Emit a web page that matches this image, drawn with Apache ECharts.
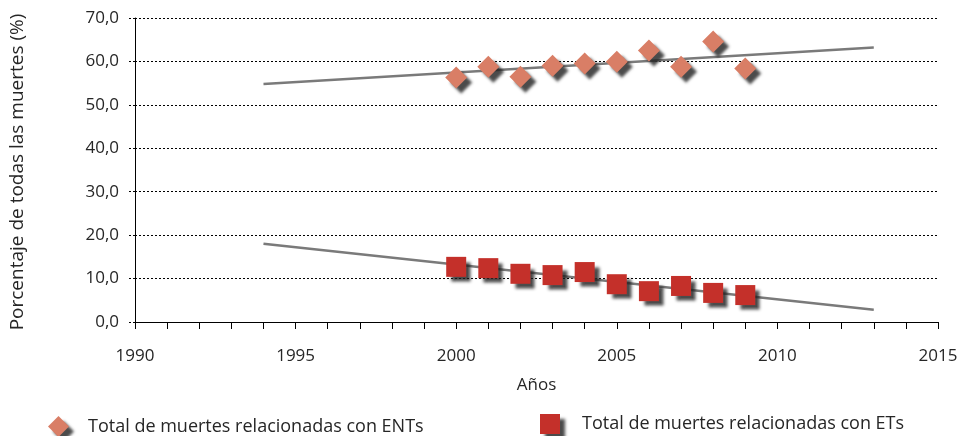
<!DOCTYPE html>
<html>
<head>
<meta charset="utf-8">
<script src="https://cdn.jsdelivr.net/npm/echarts@6/dist/echarts.min.js"></script>
<style>
  html, body { margin: 0; padding: 0; background: #fff; }
  #chart { width: 965px; height: 436px; }
</style>
</head>
<body>
<div id="chart"></div>
<script>
// Years observed
const years = [2000, 2001, 2002, 2003, 2004, 2005, 2006, 2007, 2008, 2009];
// Share of all deaths (%) related to non-communicable diseases (ENTs)
const entValues = [56.3, 58.8, 56.5, 59.0, 59.5, 59.9, 62.5, 58.8, 64.6, 58.4];
// Share of all deaths (%) related to communicable diseases (ETs)
const etValues = [12.7, 12.4, 11.1, 10.8, 11.5, 8.7, 7.1, 8.3, 6.7, 6.2];
// Linear trend endpoints [year, %]
const entTrend = [[1994, 54.8], [2013, 63.2]];
const etTrend = [[1994, 18.0], [2013, 2.8]];
// Axis ranges
const xTicks = [1990, 1995, 2000, 2005, 2010, 2015];
const yTicks = [0, 10, 20, 30, 40, 50, 60, 70];

const entName = 'Total de muertes relacionadas con ENTs';
const etName = 'Total de muertes relacionadas con ETs';
const FONT = '"Open Sans", sans-serif';
const TEXT = '#262626';

const pairs = (vals) => years.map((y, i) => [y, vals[i]]);

const shadow = {
  shadowBlur: 3,
  shadowOffsetX: 5,
  shadowOffsetY: 5,
  shadowColor: 'rgba(30,30,30,0.8)'
};

const chart = echarts.init(document.getElementById('chart'));
chart.setOption({
  animation: false,
  textStyle: { fontFamily: FONT },
  grid: { left: 135, right: 27, top: 18, bottom: 114 },
  xAxis: {
    type: 'value',
    min: xTicks[0],
    max: xTicks[xTicks.length - 1],
    interval: 5,
    name: 'Años',
    nameLocation: 'middle',
    nameGap: 55,
    nameTextStyle: { color: TEXT, fontSize: 17, fontFamily: FONT },
    axisLine: { show: true, lineStyle: { color: '#000', width: 1 } },
    axisTick: { show: true, length: 7, lineStyle: { color: '#000' } },
    minorTick: { show: true, splitNumber: 5, length: 7, lineStyle: { color: '#000' } },
    splitLine: { show: false },
    axisLabel: {
      color: TEXT, fontSize: 17, fontFamily: FONT, margin: 26,
      formatter: (v) => String(v)
    }
  },
  yAxis: {
    type: 'value',
    min: yTicks[0],
    max: yTicks[yTicks.length - 1],
    interval: 10,
    axisLine: { show: true, lineStyle: { color: '#000', width: 1 } },
    axisTick: { show: true, length: 7, lineStyle: { color: '#000', type: [2, 2] } },
    splitLine: { show: true, lineStyle: { color: '#000', type: [2, 2], width: 1 } },
    axisLabel: {
      color: TEXT, fontSize: 17, fontFamily: FONT, margin: 16,
      formatter: (v) => v.toFixed(1).replace('.', ',')
    }
  },
  legend: [
    {
      data: [entName],
      left: 43, top: 411,
      itemWidth: 21, itemHeight: 21,
      textStyle: { color: TEXT, fontSize: 18, fontFamily: FONT, padding: [0, 0, 0, 14] },
      itemStyle: shadow
    },
    {
      data: [etName],
      left: 535, top: 409,
      itemWidth: 20, itemHeight: 20,
      textStyle: { color: TEXT, fontSize: 18, fontFamily: FONT, padding: [3, 0, 0, 17] },
      itemStyle: shadow
    }
  ],
  graphic: [
    {
      type: 'text', x: 18, y: 172, rotation: Math.PI / 2,
      style: { text: 'Porcentaje de todas las muertes (%)', fill: TEXT, font: '19px ' + FONT, align: 'center', verticalAlign: 'middle' }
    }
  ],
  series: [
    {
      type: 'line', data: entTrend, showSymbol: false, silent: true, z: 1,
      lineStyle: { color: '#7a7a7a', width: 2.5 }
    },
    {
      type: 'line', data: etTrend, showSymbol: false, silent: true, z: 1,
      lineStyle: { color: '#7a7a7a', width: 2.5 }
    },
    {
      name: entName, type: 'scatter', data: pairs(entValues), z: 3,
      symbol: 'diamond', symbolSize: 22,
      itemStyle: Object.assign({ color: '#D97E66', opacity: 1 }, shadow)
    },
    {
      name: etName, type: 'scatter', data: pairs(etValues), z: 3,
      symbol: 'rect', symbolSize: 20,
      itemStyle: Object.assign({ color: '#C4302A', opacity: 1 }, shadow)
    }
  ]
});
</script>
</body>
</html>
